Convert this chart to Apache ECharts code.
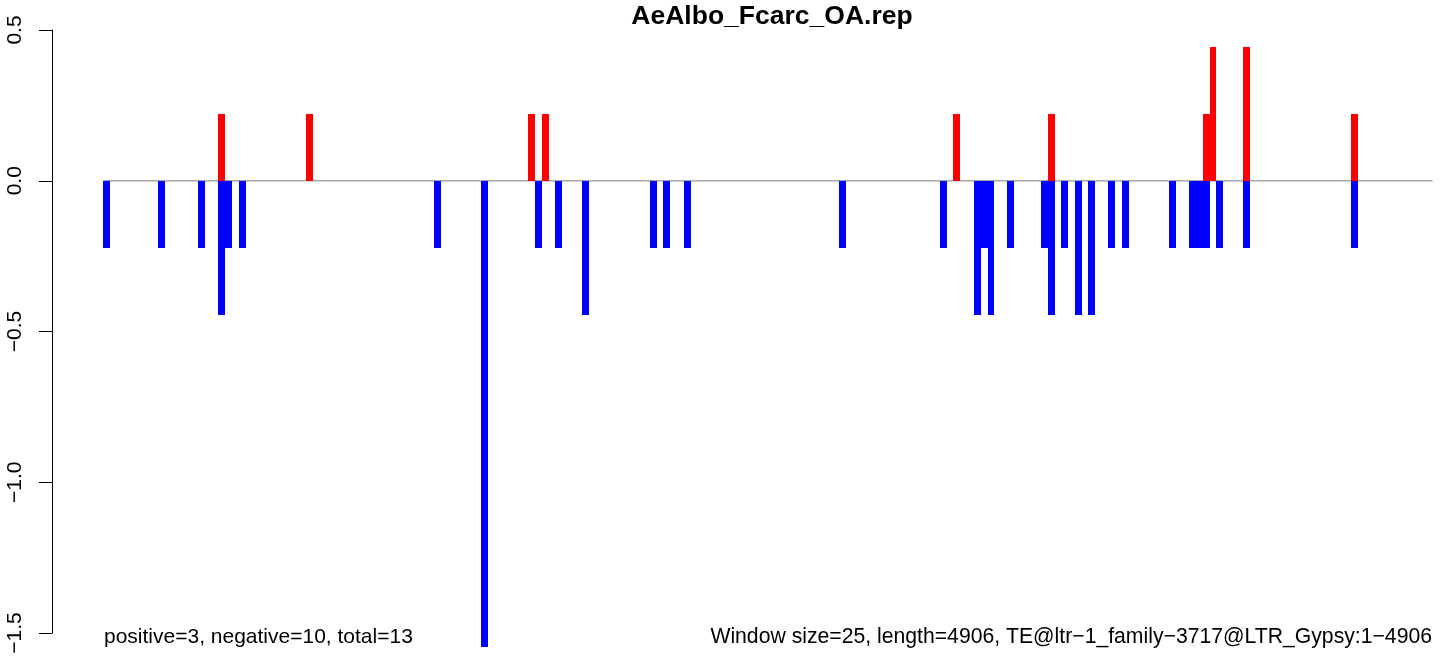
<!DOCTYPE html>
<html>
<head>
<meta charset="utf-8">
<script src="https://cdn.jsdelivr.net/npm/echarts@6/dist/echarts.min.js"></script>
<style>
html,body{margin:0;padding:0;background:#fff;}
#chart{width:1444px;height:666px;}
</style>
</head>
<body>
<div id="chart"></div>
<script>
// ---- data ----
const chartTitle = 'AeAlbo_Fcarc_OA.rep';
const windowSize = 25;
const seqLength = 4906;
// window start (bp) and value of positive (red) windows
const posStart = [424, 748, 1568, 1618, 3136, 3486, 4058, 4083, 4206, 4605];
const posValue = [0.222, 0.222, 0.222, 0.222, 0.222, 0.222, 0.222, 0.444, 0.444, 0.222];
// window start (bp) and value of negative (blue) windows
const negStart = [0, 202, 350, 424, 449, 501, 1220, 1394, 1593, 1667, 1767, 2018, 2066, 2143,
  2715, 3088, 3213, 3238, 3263, 3335, 3461, 3486, 3534, 3586, 3634, 3708, 3759, 3933,
  4007, 4033, 4058, 4106, 4206, 4605];
const negValue = [-0.222, -0.222, -0.222, -0.444, -0.222, -0.222, -0.222, -1.545, -0.222, -0.222, -0.444, -0.222, -0.222, -0.222,
  -0.222, -0.222, -0.444, -0.222, -0.444, -0.222, -0.222, -0.444, -0.222, -0.444, -0.444, -0.222, -0.222, -0.222,
  -0.222, -0.222, -0.222, -0.222, -0.222, -0.222];
const yTicks = [-1.5, -1.0, -0.5, 0.0, 0.5];
const yTickLabels = ['\u22121.5', '\u22121.0', '\u22120.5', '0.0', '0.5'];
const leftNote = 'positive=3, negative=10, total=13';
const rightNote = 'Window size=25, length=4906, TE@ltr\u22121_family\u22123717@LTR_Gypsy:1\u22124906';

// ---- chart ----
const FONT = '"Liberation Sans", Arial, Helvetica, sans-serif';
const chart = echarts.init(document.getElementById('chart'), null, {renderer: 'canvas'});

function barRenderer(color) {
  return function (params, api) {
    const x = api.value(0), v = api.value(1);
    const p0 = api.coord([x, 0]);
    const p1 = api.coord([x + windowSize, v]);
    const x0 = Math.round(p0[0]), x1 = Math.round(p1[0]);
    const y0 = Math.round(Math.min(p0[1], p1[1])), y1 = Math.round(Math.max(p0[1], p1[1]));
    return {
      type: 'rect',
      shape: {x: x0, y: y0, width: x1 - x0, height: y1 - y0},
      style: {fill: color}
    };
  };
}

const option = {
  animation: false,
  backgroundColor: '#ffffff',
  title: {
    text: chartTitle,
    left: 767,
    textAlign: 'center',
    top: -2,
    textStyle: {fontFamily: FONT, fontWeight: 'bold', fontSize: 26.5, color: '#000'}
  },
  grid: {left: 52, right: 11.3, top: 30, bottom: 33, containLabel: false},
  xAxis: {
    type: 'value', min: -190, max: seqLength, show: false
  },
  yAxis: {
    type: 'value', min: -1.5, max: 0.5, interval: 0.5,
    axisLine: {show: true, onZero: false, lineStyle: {color: '#000', width: 1}},
    axisTick: {show: true, length: 13, lineStyle: {color: '#000', width: 1}},
    splitLine: {show: false},
    axisLabel: {
      rotate: 90, margin: 26, fontSize: 21, fontFamily: FONT, color: '#000',
      formatter: function (val) {
        const i = yTicks.findIndex(t => Math.abs(t - val) < 1e-9);
        return i >= 0 ? yTickLabels[i] : '';
      }
    }
  },
  series: [
    {
      type: 'line', z: 1, silent: true, symbol: 'none',
      data: [[0, 0], [seqLength, 0]],
      lineStyle: {color: '#a9a9a9', width: 1.5}
    },
    {
      type: 'custom', z: 2, clip: false,
      renderItem: barRenderer('#0000ff'),
      data: negStart.map((s, i) => [s, negValue[i]])
    },
    {
      type: 'custom', z: 3, clip: false,
      renderItem: barRenderer('#ff0000'),
      data: posStart.map((s, i) => [s, posValue[i]])
    }
  ],
  graphic: [
    {type: 'text', left: 104, top: 627, style: {text: leftNote, font: '21px ' + FONT, fill: '#000'}},
    {type: 'text', right: 12, top: 627, style: {text: rightNote, font: '21.2px ' + FONT, fill: '#000'}}
  ]
};
chart.setOption(option);
</script>
</body>
</html>
